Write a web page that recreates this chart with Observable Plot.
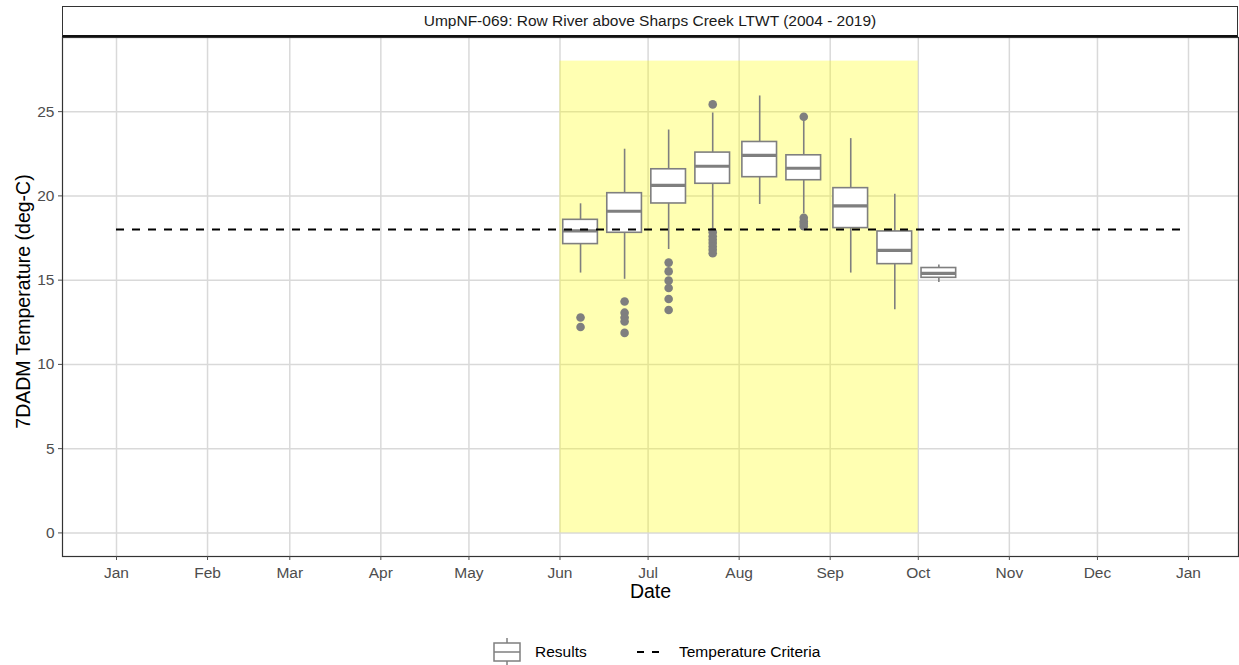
<!DOCTYPE html>
<html>
<head>
<meta charset="utf-8">
<script src="https://cdn.jsdelivr.net/npm/d3@7"></script>
<script src="https://cdn.jsdelivr.net/npm/@observablehq/plot@0.6"></script>
<style>
  body { margin: 0; background: #fff; font-family: "Liberation Sans", Arial, sans-serif; }
  #wrap { position: relative; width: 1239px; height: 665px; overflow: hidden; background: #fff; }
  #chart { position: absolute; left: 0; top: 0; }
  #strip { position: absolute; left: 62px; top: 6px; width: 1176px; height: 31px; box-sizing: border-box;
           border: 1px solid #333; border-bottom: 2px solid #111; background: #fff;
           display: flex; align-items: center; justify-content: center; font-size: 15.5px; color: #1a1a1a; }
  .leg { position: absolute; font-size: 15.5px; color: #000; line-height: 18px; }
</style>
</head>
<body>
<div id="wrap">
  <div id="chart"></div>
  <div id="strip">UmpNF-069: Row River above Sharps Creek LTWT (2004 - 2019)</div>
  <svg class="leg" style="left:490px;top:636px" width="34" height="30">
    <line x1="17" y1="2" x2="17" y2="7" stroke="#7f7f7f" stroke-width="1.5"/>
    <line x1="17" y1="25" x2="17" y2="30" stroke="#7f7f7f" stroke-width="1.5"/>
    <rect x="4" y="7" width="26" height="18" fill="#fff" stroke="#7f7f7f" stroke-width="1.5"/>
    <line x1="4" y1="16" x2="30" y2="16" stroke="#7f7f7f" stroke-width="1.5"/>
  </svg>
  <div class="leg" style="left:535px;top:643px">Results</div>
  <svg class="leg" style="left:634px;top:644px" width="34" height="16">
    <line x1="3" y1="8" x2="31" y2="8" stroke="#000" stroke-width="2" stroke-dasharray="7,8"/>
  </svg>
  <div class="leg" style="left:679px;top:643px">Temperature Criteria</div>
</div>
<script>
// ---- data ----
const boxDates    = ["2021-06-08","2021-06-23","2021-07-08","2021-07-23","2021-08-08","2021-08-23","2021-09-08","2021-09-23","2021-10-08"];
const whiskerLow  = [15.42, 15.05, 16.82, 18.05, 19.49, 18.94, 15.42, 13.25, 14.86];
const q1          = [17.14, 17.81, 19.55, 20.72, 21.11, 20.93, 18.09, 15.95, 15.14];
const median      = [17.93, 19.09, 20.63, 21.76, 22.41, 21.64, 19.41, 16.77, 15.40];
const q3          = [18.58, 20.16, 21.58, 22.57, 23.20, 22.41, 20.46, 17.89, 15.72];
const whiskerHigh = [19.53, 22.77, 23.91, 24.92, 25.93, 24.55, 23.40, 20.10, 15.90];

const outlierDates = [
  "2021-06-08","2021-06-08",
  "2021-06-23","2021-06-23","2021-06-23","2021-06-23","2021-06-23",
  "2021-07-08","2021-07-08","2021-07-08","2021-07-08","2021-07-08","2021-07-08",
  "2021-07-23","2021-07-23","2021-07-23","2021-07-23","2021-07-23","2021-07-23","2021-07-23","2021-07-23",
  "2021-08-23","2021-08-23","2021-08-23","2021-08-23","2021-08-23"
];
const outlierValues = [
  12.78, 12.22,
  13.73, 13.07, 12.78, 12.55, 11.87,
  16.04, 15.52, 14.97, 14.53, 13.88, 13.23,
  25.43, 17.85, 17.6, 17.4, 17.2, 17.0, 16.8, 16.6,
  24.70, 18.70, 18.50, 18.35, 18.20
];

const criteriaValue = 18;
const criteriaStart = "2021-01-01";
const criteriaEnd = "2021-12-31";
const seasonStart = "2021-06-01";
const seasonEnd = "2021-10-01";
const seasonTop = 28;
const monthTickDates = ["2021-01-01","2021-02-01","2021-03-01","2021-04-01","2021-05-01","2021-06-01",
  "2021-07-01","2021-08-01","2021-09-01","2021-10-01","2021-11-01","2021-12-01","2022-01-01"];
const yTicks = [0, 5, 10, 15, 20, 25];

// ---- build ----
const parse = d3.utcParse("%Y-%m-%d");
const halfWidthMs = 5.9 * 864e5;
const boxes = boxDates.map((d, i) => {
  const t = parse(d);
  return {date: t, x1: new Date(+t - halfWidthMs), x2: new Date(+t + halfWidthMs),
          lo: whiskerLow[i], q1: q1[i], med: median[i], q3: q3[i], hi: whiskerHigh[i]};
});
const outliers = outlierDates.map((d, i) => ({date: parse(d), value: outlierValues[i]}));
const monthTicks = monthTickDates.map(parse);

const W = 1239, H = 665;
const gray = "#7f7f7f";
const gridColor = "#d9d9d9";

const plot = Plot.plot({
  width: W, height: H,
  marginLeft: 62, marginRight: 1, marginTop: 37, marginBottom: H - 556,
  style: {fontFamily: "Liberation Sans, Arial, sans-serif", fontSize: "15.5px", background: "transparent", overflow: "visible"},
  x: {type: "utc", domain: [monthTicks[0], monthTicks[12]], range: [116, 1188]},
  y: {domain: [-1.4, 29.4]},
  marks: [
    Plot.ruleX(monthTicks, {stroke: gridColor, strokeWidth: 1.5}),
    Plot.ruleY(yTicks, {stroke: gridColor, strokeWidth: 1.5}),
    Plot.rect([{x1: parse(seasonStart), x2: parse(seasonEnd), y1: 0, y2: seasonTop}],
      {x1: "x1", x2: "x2", y1: "y1", y2: "y2", fill: "yellow", fillOpacity: 0.3}),
    Plot.ruleX(boxes, {x: "date", y1: "lo", y2: "hi", stroke: gray, strokeWidth: 1.6}),
    Plot.rect(boxes, {x1: "x1", x2: "x2", y1: "q1", y2: "q3", fill: "white", stroke: gray, strokeWidth: 1.6}),
    Plot.ruleY(boxes, {y: "med", x1: "x1", x2: "x2", stroke: gray, strokeWidth: 3.2}),
    Plot.dot(outliers, {x: "date", y: "value", r: 4.3, fill: gray, stroke: "none"}),
    Plot.ruleY([criteriaValue], {x1: parse(criteriaStart), x2: parse(criteriaEnd), stroke: "#000", strokeWidth: 2, strokeDasharray: "8,8"}),
    Plot.frame({stroke: "#333", strokeWidth: 1.2}),
    Plot.axisX({ticks: monthTicks, tickFormat: d3.utcFormat("%b"), tickSize: 4, tickPadding: 6,
      color: "#4d4d4d", fontSize: 15.5, label: null}),
    Plot.axisY({ticks: yTicks, tickSize: 4, tickPadding: 4, color: "#4d4d4d", fontSize: 15.5, label: null}),
    Plot.text(["Date"], {frameAnchor: "bottom", dy: 41, fontSize: 19.5, fill: "#000"}),
    Plot.text(["7DADM Temperature (deg-C)"], {frameAnchor: "left", textAnchor: "middle", dx: -39, dy: 4.5, rotate: -90, fontSize: 19.5, fill: "#000"})
  ]
});
document.getElementById("chart").appendChild(plot);
</script>
</body>
</html>
